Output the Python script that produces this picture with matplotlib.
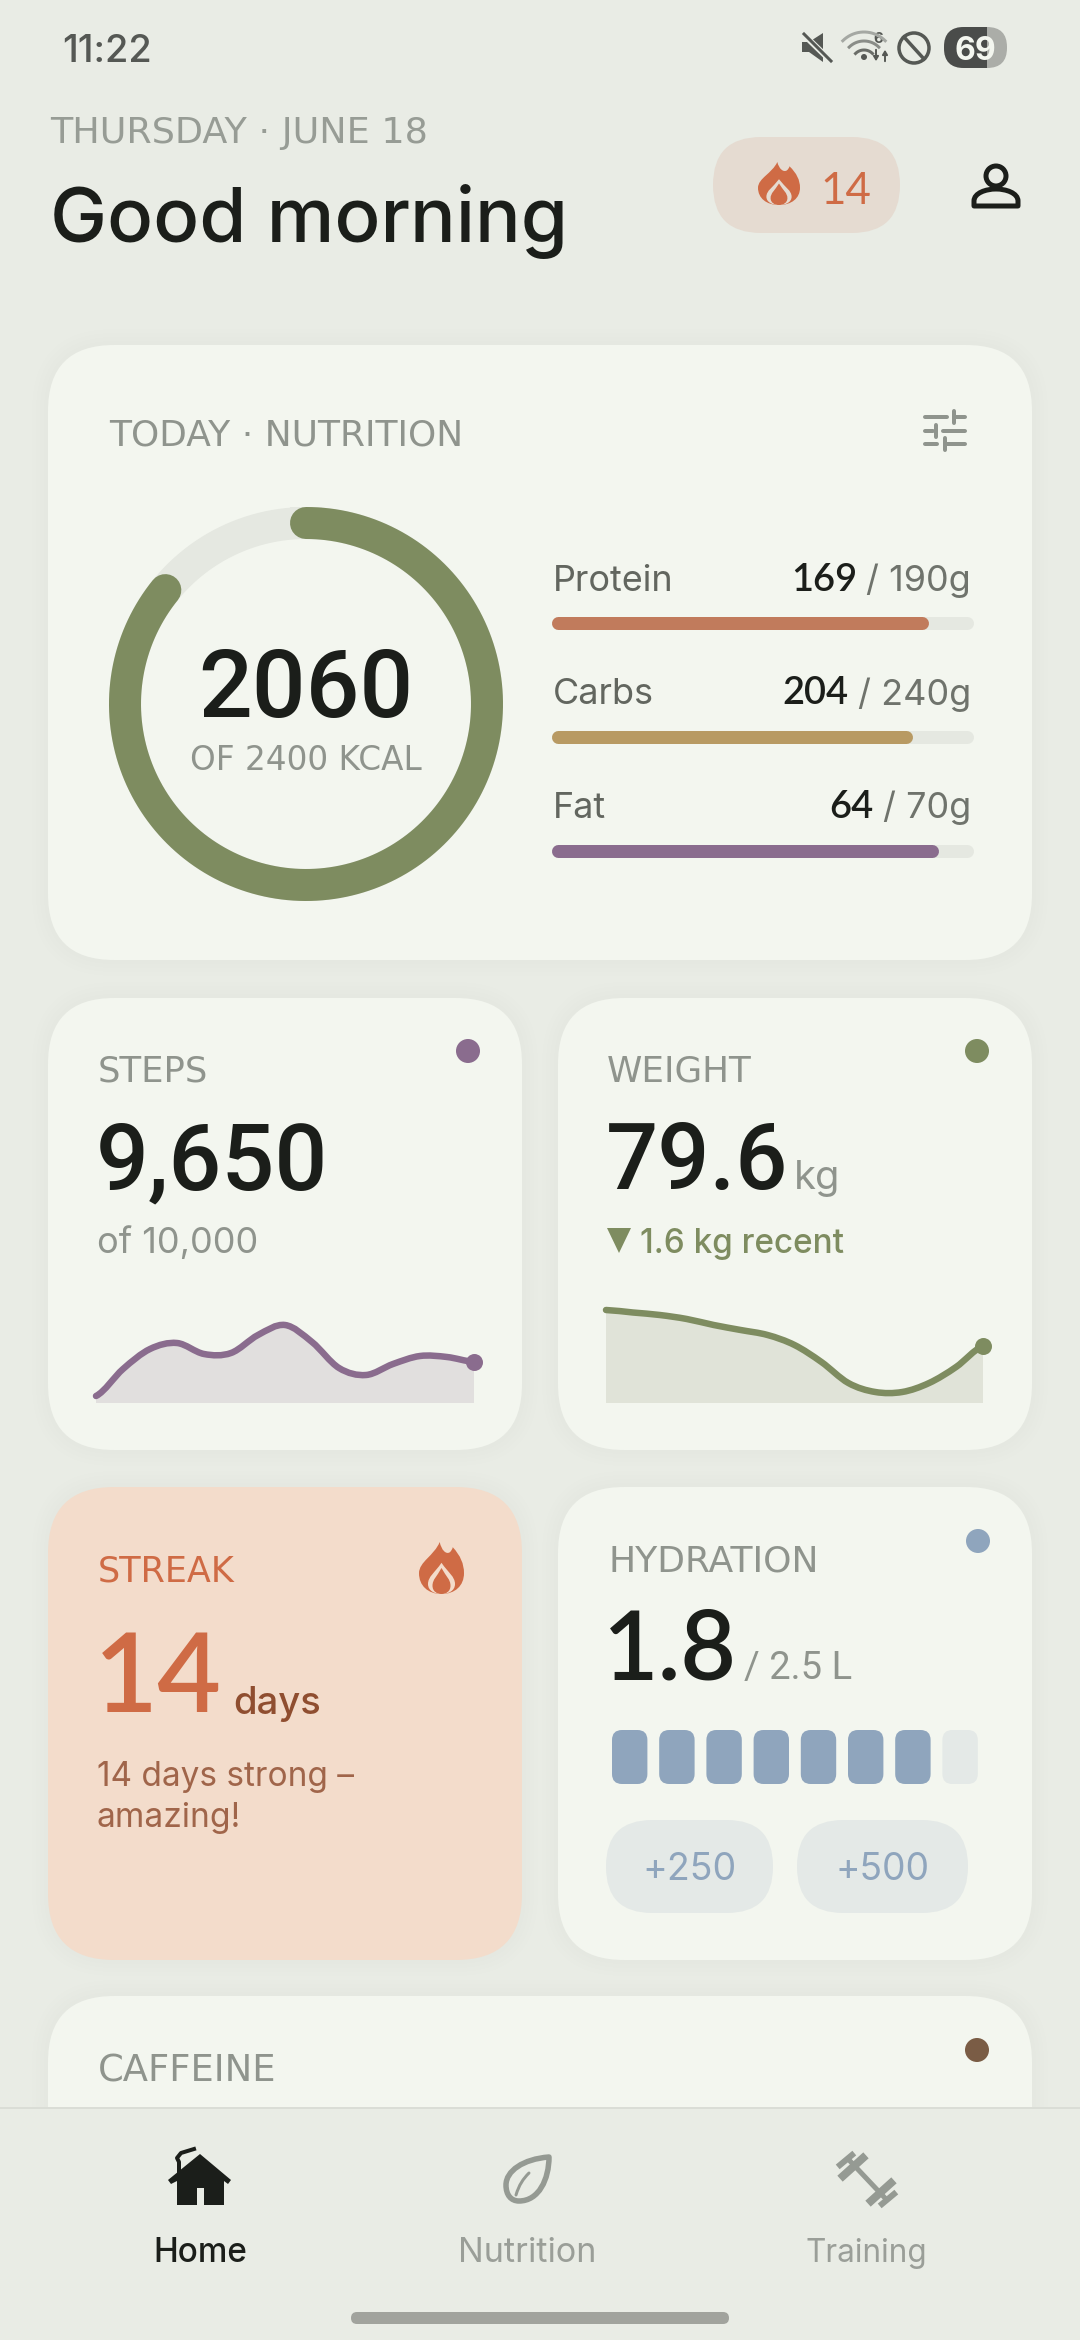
import matplotlib
matplotlib.use("Agg")
import matplotlib.pyplot as plt
from matplotlib.patches import FancyBboxPatch, Circle, PathPatch, Polygon, Rectangle
from matplotlib.path import Path
import numpy as np

# ---------- data ----------
kcal_eaten = 2060
kcal_goal = 2400
macro_names = ["Protein", "Carbs", "Fat"]
macro_values = [169, 204, 64]
macro_goals = [190, 240, 70]
macro_colors = ["#C17B5C", "#B89A63", "#8A6C8E"]
steps_spark = [7, 34, 54, 60, 49, 50, 68, 78, 61, 35, 28, 39, 47, 46, 41]
weight_spark = [93, 90.5, 88, 84, 78, 73, 68, 58, 41, 20, 11, 11, 20, 36, 57]
hydration_total = 8
hydration_filled = 7
hydration_buttons = ["+250", "+500"]
nav_labels = ["Home", "Nutrition", "Training"]

# ---------- palette ----------
BG = "#E9ECE5"; CARD = "#F3F6EF"; INK = "#1B1E1A"; GREY = "#8F948D"; TRACK = "#E5E8E1"
GREEN = "#7E8C60"; PURPLE = "#8A6C8E"; BLUE = "#8FA5BD"; ORANGE = "#CF6B45"; PALEBLUE = "#E4E9E7"
FONT = ["Inter", "DejaVu Sans"]
WIDE = ["DejaVu Sans"]
NUM = ["Roboto", "DejaVu Sans"]
FOOT = ["Lato", "DejaVu Sans"]

W, H = 1080, 2340
fig = plt.figure(figsize=(W / 100, H / 100), dpi=100, facecolor=BG)
ax = fig.add_axes([0, 0, 1, 1])
ax.set_xlim(0, W); ax.set_ylim(H, 0); ax.axis("off")
PX = 0.72  # points per pixel
rend = fig.canvas.get_renderer()


def sub_axes(x0, y0, x1, y1):
    a = fig.add_axes([x0 / W, 1 - y1 / H, (x1 - x0) / W, (y1 - y0) / H], zorder=2)
    a.axis("off")
    return a


def T(x, y, s, px, color, weight="normal", ha="left", family=None, z=5, fit=None):
    t = ax.text(x, y, s, fontsize=px * PX, color=color, fontweight=weight, ha=ha, va="baseline",
                family=family or FONT, zorder=z)
    if fit:
        t.set_fontsize(t.get_fontsize() * fit / t.get_window_extent(rend).width)
    return t


def rrect(x0, y0, x1, y1, r, color, z=1, alpha=None):
    r = min(r, (x1 - x0) / 2, (y1 - y0) / 2)
    p = FancyBboxPatch((x0 + r, y0 + r), x1 - x0 - 2 * r, y1 - y0 - 2 * r,
                       boxstyle=f"round,pad={r},rounding_size={r}", fc=color, ec="none", lw=0, zorder=z, alpha=alpha)
    ax.add_patch(p)
    return p


def bez(x, y, s, cmds, color, z=6, lw=0, fill=True):
    verts = []; codes = []
    for c, pts in cmds:
        if c == "M": codes.append(Path.MOVETO)
        if c == "L": codes.append(Path.LINETO)
        if c == "C": codes += [Path.CURVE4] * 3
        if c == "Z": codes.append(Path.CLOSEPOLY); pts = [(0, 0)]
        for p in pts:
            verts.append((x + p[0] * s, y + p[1] * s))
    ax.add_patch(PathPatch(Path(verts, codes), fc=color if fill else "none", ec=color if lw else "none",
                           lw=lw * PX, zorder=z, capstyle="round", joinstyle="round"))


FLAME = [("M", [(.46, 0)]),
         ("C", [(.50, .16), (.60, .24), (.68, .20)]),
         ("C", [(.72, .17), (.74, .14), (.75, .10)]),
         ("C", [(.92, .26), (1.0, .42), (1.0, .60)]),
         ("C", [(1.0, .84), (.80, 1.0), (.5, 1.0)]),
         ("C", [(.20, 1.0), (0, .84), (0, .60)]),
         ("C", [(0, .38), (.34, .26), (.46, 0)]), ("Z", [])]
DROP = [("M", [(.5, .50)]),
        ("C", [(.60, .66), (.70, .72), (.70, .84)]),
        ("C", [(.70, .95), (.60, 1.0), (.5, 1.0)]),
        ("C", [(.40, 1.0), (.30, .95), (.30, .84)]),
        ("C", [(.30, .72), (.40, .66), (.5, .50)]), ("Z", [])]


def flame(x0, y0, w, h, color, hole):
    bez(x0, y0, 1, [(c, [(p[0] * w, p[1] * h) for p in pts]) for c, pts in FLAME], color)
    d = [(c, [((p[0] - .5) * 1.5 + .5, (p[1] - 1) * 1.2 + 1.0) for p in pts]) for c, pts in DROP]
    bez(x0, y0, 1, [(c, [(p[0] * w, p[1] * h) for p in pts]) for c, pts in d], hole, z=7)
    bez(x0, y0, 1, [(c, [(p[0] * w, p[1] * h) for p in pts]) for c, pts in DROP], color, z=8)


# ---------- cards ----------
cards = [(48, 345, 1032, 960, CARD), (48, 998, 522, 1450, CARD), (558, 998, 1032, 1450, CARD),
         (48, 1487, 522, 1960, "#F3DCCB"), (558, 1487, 1032, 1960, CARD), (48, 1996, 1032, 2200, CARD)]
for c in cards:
    for g in (16, 12, 8, 4):
        rrect(c[0] - g, c[1] - g, c[2] + g, c[3] + g, 66 + g, "#000000", z=0.5, alpha=0.004)
for c in cards:
    rrect(c[0], c[1], c[2], c[3], 66, c[4], z=1)

# ---------- status bar ----------
T(62, 62, "11:22", 38, "#555854", "medium")
# mute
ax.add_patch(Polygon([(802, 42), (809, 42), (823, 33), (823, 62), (809, 52), (802, 52)], fc="#555854", ec="none", zorder=6))
ax.plot([802, 832], [33, 62], color=BG, lw=6 * PX, zorder=7)
ax.plot([804, 831], [34, 61], color="#555854", lw=3 * PX, zorder=8)
# wifi
for r, col in ((30, "#A5A8A3"), (21, "#8A8D88"), (12, "#6A6D68")):
    t = np.radians(np.linspace(-135, -45, 20))
    ax.plot(864 + r * np.cos(t), 62 + r * np.sin(t), color=col, lw=3 * PX, zorder=6)
ax.add_patch(Circle((864, 57), 3, fc="#555854", ec="none", zorder=6))
T(873, 43, "6", 15, "#555854", "bold")
ax.annotate("", (876, 64), (876, 47), arrowprops=dict(arrowstyle="-|>,head_width=.15,head_length=.25", color="#555854", lw=1.4), zorder=6)
ax.annotate("", (885, 47), (885, 64), arrowprops=dict(arrowstyle="-|>,head_width=.15,head_length=.25", color="#555854", lw=1.4), zorder=6)
# do not disturb
ax.add_patch(Circle((914, 48), 15, fc="none", ec="#555854", lw=3.5 * PX, zorder=6))
ax.plot([904, 924], [37, 59], color="#555854", lw=3.5 * PX, zorder=6)
# battery
rrect(944, 27, 1007, 68, 20, "#ABADA8", z=5)
dark = rrect(944, 27, 1007, 68, 20, "#4A4C4A", z=5.2)
dark.set_clip_path(Rectangle((944, 27), 43, 41, transform=ax.transData))
T(975, 60, "69", 32, "#F3F6EF", "bold", ha="center", z=6)

# ---------- header ----------
T(50, 143, "THURSDAY · JUNE 18", 33, "#979C95", family=WIDE, fit=377)
T(50, 242, "Good morning", 78, INK, "medium", fit=517)
rrect(713, 137, 900, 233, 48, "#E5DBD1", z=2)
flame(758, 162, 42, 43, ORANGE, "#E5DBD1")
T(820, 204, "14", 44, ORANGE, family=FOOT)
ax.add_patch(Circle((996, 176), 10, fc="none", ec=INK, lw=5 * PX, zorder=6))
bez(974, 206, 1, [("M", [(0, 0)]), ("L", [(0, -5)]), ("C", [(0, -13), (12, -17), (22, -17)]),
                  ("C", [(32, -17), (44, -13), (44, -5)]), ("L", [(44, 0)]), ("Z", [])], INK, fill=False, lw=5)

# ---------- nutrition card ----------
T(109, 445, "TODAY · NUTRITION", 33, GREY, family=WIDE, fit=355)
for ly, kx, segs in ((417, 954, [(925, 947), (956, 965)]), (431, 936, [(925, 933), (943, 965)]),
                     (444, 945, [(925, 937), (947, 965)])):
    for s0, s1 in segs:
        ax.plot([s0, s1], [ly, ly], color=GREY, lw=4 * PX, zorder=6, solid_capstyle="round")
    ax.plot([kx, kx], [ly - 6, ly + 6], color=GREY, lw=4 * PX, zorder=6, solid_capstyle="round")

dn = sub_axes(109, 507, 503, 901)
dn.set_xlim(-197, 197); dn.set_ylim(-197, 197)
theta = np.linspace(0, 2 * np.pi, 361)
R = 181
dn.plot(R * np.sin(theta), R * np.cos(theta), color=TRACK, lw=32 * PX)
theta = np.linspace(0, 2 * np.pi * kcal_eaten / kcal_goal, 361)
dn.plot(R * np.sin(theta), R * np.cos(theta), color=GREEN, lw=32 * PX, solid_capstyle="round", clip_on=False)
T(306, 717, f"{kcal_eaten}", 96, INK, "medium", ha="center", family=NUM, fit=215)
T(306, 770, f"OF {kcal_goal} KCAL", 31, GREY, ha="center", family=WIDE, fit=231)

for i, (name, v, g, col) in enumerate(zip(macro_names, macro_values, macro_goals, macro_colors)):
    base = 591 + i * 113.5
    T(553, base, name, 36, "#62665F")
    t = T(971, base, f"/ {g}g", 36, "#6F736C", ha="right")
    bb = t.get_window_extent(rend)
    T(971 - bb.width - 9, base, f"{v}", 38, INK, "semibold", ha="right", family=FOOT)
    top = 616 + i * 114
    a = sub_axes(558, top, 967, top + 13)
    a.set_xlim(0, g); a.set_ylim(-1, 1)
    a.plot([0, g], [0, 0], color=TRACK, lw=13 * PX, solid_capstyle="round", clip_on=False)
    a.plot([0, v], [0, 0], color=col, lw=13 * PX, solid_capstyle="round", clip_on=False)


# ---------- sparklines ----------
def spark(x0, x1, values, color, fill):
    y0, y1 = 1303, 1403
    a = sub_axes(x0, y0, x1, y1)
    n = len(values) - 1
    a.set_xlim(0, n); a.set_ylim(0, 100)
    verts = [(0, values[0])]; codes = [Path.MOVETO]
    for i in range(n):
        p0 = values[max(i - 1, 0)]; p1 = values[i]; p2 = values[i + 1]; p3 = values[min(i + 2, n)]
        verts += [(i + 1 / 3, p1 + (p2 - p0) / 6), (i + 2 / 3, p2 - (p3 - p1) / 6), (i + 1, p2)]
        codes += [Path.CURVE4] * 3
    fv = verts + [(n, 0), (0, 0), (0, values[0])]
    fc = codes + [Path.LINETO, Path.LINETO, Path.CLOSEPOLY]
    a.add_patch(PathPatch(Path(fv, fc), fc=fill, ec="none", zorder=1))
    a.add_patch(PathPatch(Path(verts, codes), fc="none", ec=color, lw=6.5 * PX, capstyle="round", zorder=2, clip_on=False))
    a.plot([n], [values[-1]], "o", color=color, ms=17 * PX, mew=0, clip_on=False, zorder=3)


# steps
T(98, 1081, "STEPS", 33, GREY, family=WIDE, fit=110)
ax.add_patch(Circle((468, 1051), 12, fc=PURPLE, ec="none", zorder=6))
T(96, 1189, "9,650", 96, INK, "medium", family=NUM, fit=232)
T(97, 1253, "of 10,000", 36, GREY, fit=161)
spark(96, 474, steps_spark, PURPLE, "#E1DFDE")

# weight
T(607, 1081, "WEIGHT", 33, GREY, family=WIDE, fit=145)
ax.add_patch(Circle((977, 1051), 12, fc=GREEN, ec="none", zorder=6))
T(606, 1189, "79.6", 96, INK, "medium", family=NUM, fit=182)
T(794, 1189, "kg", 40, GREY)
ax.add_patch(Polygon([(607, 1228), (631, 1228), (619, 1253)], fc=GREEN, ec="none", zorder=6))
T(640, 1253, "1.6 kg recent", 33, GREEN, "medium", fit=204)
spark(606, 983, weight_spark, GREEN, "#E0E3D8")

# ---------- streak ----------
T(98, 1581, "STREAK", 33, ORANGE, family=WIDE, fit=137)
flame(419, 1542, 45, 52, ORANGE, "#F3DCCB")
T(94, 1712, "14", 113, ORANGE, "semibold", family=FOOT, fit=128)
T(233, 1714, "days", 40, "#8F4E30", "medium", fit=88)
T(97, 1786, "14 days strong –", 34, "#A0654A", fit=257)
T(97, 1827, "amazing!", 34, "#A0654A", fit=144)

# ---------- hydration ----------
T(609, 1571, "HYDRATION", 33, GREY, family=WIDE, fit=211)
ax.add_patch(Circle((978, 1541), 12, fc=BLUE, ec="none", zorder=6))
T(603, 1679, "1.8", 96, INK, "semibold", family=FOOT, fit=134)
T(744, 1679, "/ 2.5 L", 42, GREY, family=NUM, fit=108)
for i in range(hydration_total):
    x0 = 612 + i * 47.2
    rrect(x0, 1730, x0 + 35.4, 1784, 10, BLUE if i < hydration_filled else PALEBLUE, z=3)
for (x0, x1), lab in zip(((606, 773), (797, 968)), hydration_buttons):
    rrect(x0, 1820, x1, 1913, 46, PALEBLUE, z=3)
    T((x0 + x1) / 2, 1880, lab, 38, BLUE, ha="center", fit=94)

# ---------- caffeine + nav ----------
T(98, 2081, "CAFFEINE", 33, GREY, family=WIDE, fit=179)
ax.add_patch(Circle((977, 2050), 12, fc="#7A5C45", ec="none", zorder=6))
ax.add_patch(Rectangle((0, 2108), W, H - 2108, fc=BG, ec="none", zorder=10))
ax.add_patch(Rectangle((0, 2107), W, 2, fc="#DADDD6", ec="none", zorder=11))

# home icon
ax.add_patch(Polygon([(200, 2154), (231, 2180), (228, 2184), (224, 2181), (224, 2205), (204, 2205), (204, 2188),
                      (197, 2188), (197, 2205), (177, 2205), (177, 2181), (171, 2184), (168, 2180)],
                     fc=INK, ec="none", zorder=12))
ax.plot([179, 179, 177, 181, 194], [2172, 2162, 2158, 2153, 2149], color=INK, lw=4 * PX, zorder=12)
# leaf icon
bez(503, 2157, 1, [("M", [(46, 0)]), ("C", [(20, 2), (3, 14), (3, 28)]), ("C", [(3, 38), (8, 44), (16, 44)]),
                   ("C", [(36, 44), (46, 22), (46, 0)]), ("Z", [])], "#959A93", z=12, fill=False, lw=5.5)
bez(503, 2157, 1, [("M", [(13, 38)]), ("C", [(16, 28), (20, 22), (26, 16)])], "#959A93", z=12, fill=False, lw=3)
# dumbbell icon
ax.plot([850, 884], [2161, 2197], color="#959A93", lw=5 * PX, zorder=12)
for (cx, cy) in ((853, 2167), (881, 2192)):
    ax.plot([cx - 10, cx + 10], [cy + 9, cy - 9], color="#959A93", lw=8 * PX, zorder=12)
for (cx, cy) in ((846, 2160), (888, 2199)):
    ax.plot([cx - 6, cx + 6], [cy + 5, cy - 5], color="#959A93", lw=6 * PX, zorder=12)

for x, lab, col, wt, wd in zip((200, 527, 866), nav_labels, (INK, "#9A9E98", "#9A9E98"),
                               ("medium", "normal", "normal"), (94, 138, 122)):
    T(x, 2262, lab, 33, col, wt, ha="center", z=12, fit=wd)
rrect(351, 2312, 729, 2324, 6, "#A1A39D", z=12)

fig.savefig("out.png", dpi=100, facecolor=BG)
